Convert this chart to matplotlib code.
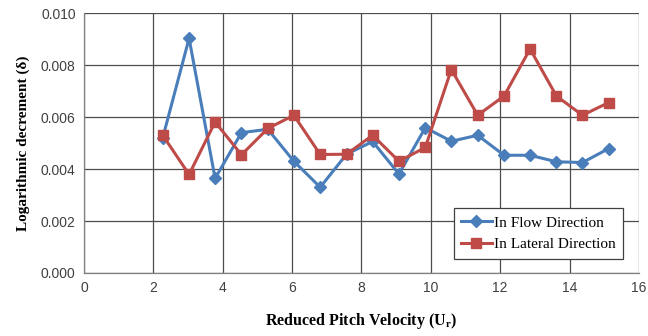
import matplotlib
matplotlib.use("Agg")
import matplotlib.pyplot as plt

x_vals = [2.27, 3.03, 3.78, 4.54, 5.30, 6.05, 6.81, 7.57, 8.32, 9.08,
          9.84, 10.59, 11.35, 12.11, 12.86, 13.62, 14.37, 15.13]
flow = [0.00520, 0.00903, 0.00364, 0.00540, 0.00553, 0.00430, 0.00330, 0.00457, 0.00506,
        0.00381, 0.00559, 0.00507, 0.00530, 0.00453, 0.00453, 0.00428, 0.00425, 0.00479]
lateral = [0.00530, 0.00379, 0.00581, 0.00455, 0.00556, 0.00607, 0.00456, 0.00457, 0.00530,
           0.00430, 0.00483, 0.00783, 0.00607, 0.00681, 0.00862, 0.00681, 0.00607, 0.00656]
x_ticks = [0, 2, 4, 6, 8, 10, 12, 14, 16]
y_ticks = [0.000, 0.002, 0.004, 0.006, 0.008, 0.010]

plt.rcParams['mathtext.fontset'] = 'stix'

fig = plt.figure(figsize=(6.48, 3.36), dpi=100)
ax = fig.add_axes([0.1296, 0.1875, 0.8565, 0.7735])

ax.plot(x_vals, flow, color='#4A7EBB', lw=2.2, marker='D', ms=6.5,
        markerfacecolor='#4A7EBB', markeredgecolor='#4A7EBB', label='In Flow Direction', zorder=3)
ax.plot(x_vals, lateral, color='#BE4B48', lw=2.2, marker='s', ms=6.5,
        markerfacecolor='#BE4B48', markeredgecolor='#BE4B48', label='In Lateral Direction', zorder=3)

ax.set_xlim(0, 16)
ax.set_ylim(0, 0.010)
ax.set_xticks(x_ticks)
ax.set_yticks(y_ticks)
ax.set_xticklabels([str(t) for t in x_ticks])
ax.set_yticklabels([f"{t:.3f}" for t in y_ticks])
ax.grid(True, color='#4d4d4d', lw=0.9)
ax.set_axisbelow(True)
for s in ['top', 'right']:
    ax.spines[s].set_visible(False)
for s in ['left', 'bottom']:
    ax.spines[s].set_color('#808080')
    ax.spines[s].set_linewidth(0.9)
ax.tick_params(length=0, labelsize=10, labelcolor='#404040', pad=6)
for lab in ax.get_xticklabels() + ax.get_yticklabels():
    lab.set_family('Liberation Sans')

ax.set_xlabel('Reduced Pitch Velocity (U$_{\\mathbf{r}}$)', family='Liberation Serif',
              fontweight='bold', fontsize=11.5, labelpad=11)
ax.set_ylabel('Logarithmic decrement (δ)', family='Liberation Serif',
              fontweight='bold', fontsize=11, labelpad=8)

leg = ax.legend(loc='lower right', bbox_to_anchor=(0.972, 0.055), frameon=True, fancybox=False,
                prop={'family': 'Liberation Serif', 'size': 11}, handlelength=2.0,
                borderpad=0.5, labelspacing=0.5, handletextpad=0.15, borderaxespad=0)
leg.get_frame().set_edgecolor('#404040')
leg.get_frame().set_linewidth(0.9)
leg.get_frame().set_alpha(1)

fig.savefig('out.png', dpi=100)
